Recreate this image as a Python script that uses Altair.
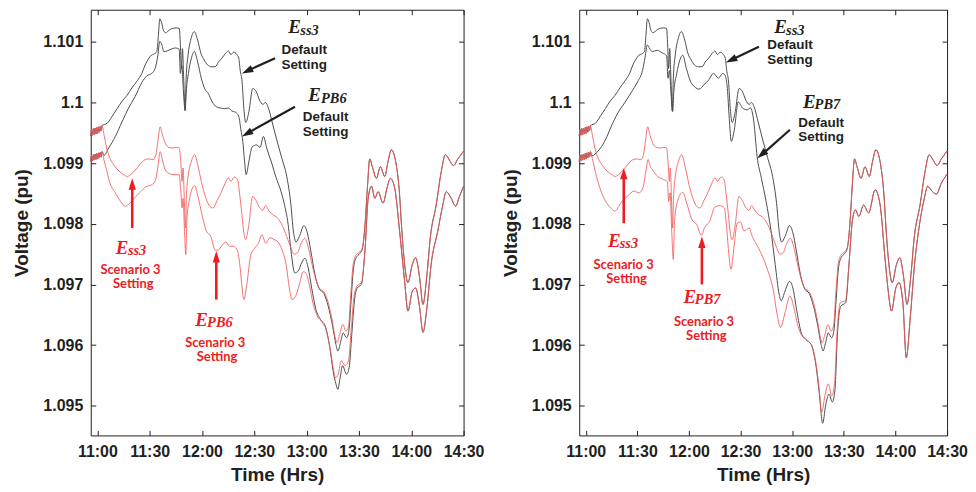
import altair as alt
import pandas as pd

# ---------------- axes ----------------
x_ticks = [0, 30, 60, 90, 120, 150, 180, 210]          # minutes after 11:00
y_ticks = [1.095, 1.096, 1.097, 1.098, 1.099, 1.1, 1.101]
x_domain = [-3.8, 210]
y_domain = [1.09451, 1.10153]

# ---------------- start-up oscillation ----------------
zig_t = [-3.8, -3.3, -2.8, -2.3, -1.8, -1.3, -0.8, -0.3, 0.2, 0.7, 1.2, 1.7, 2.2, 2.7]
ess3_zig_v = [1.09945, 1.09956, 1.09946, 1.09957, 1.09947, 1.09958, 1.09948, 1.09959,
              1.09949, 1.09960, 1.09951, 1.09961, 1.09953, 1.09962]
pb_zig_v = [1.09903, 1.09913, 1.09904, 1.09914, 1.09905, 1.09915, 1.09906, 1.09916,
            1.09907, 1.09917, 1.09909, 1.09918, 1.09910, 1.09919]

# ---------------- E_ss3 (same in both panels) ----------------
ess3_def_t = [5.7, 8.4, 11.4, 14.1, 17.1, 19.8, 22.9, 25.5, 27.4, 29.3, 30.9, 32.4, 34.1, 35.0, 35.8,
              36.8, 37.9, 39.2, 41.0, 42.9, 45.3, 47.0, 47.6, 48.2, 48.8, 49.5, 50.3, 50.9, 52.0, 53.7,
              55.6, 57.5, 59.4, 61.3, 63.2, 65.5, 67.6, 69.5, 71.4, 73.5, 75.1, 76.6, 78.1, 80.0, 81.1,
              81.9, 83.0, 84.0, 85.1, 86.9, 89.1, 91.1, 93.0, 94.9, 96.4, 98.3, 100.2, 102.9, 105.7,
              108.6, 110.9, 112.4, 113.9, 115.8, 118.5, 120.4, 122.3, 124.8, 127.2, 129.9, 132.4,
              134.9, 136.8, 137.9, 139.4, 141.0, 142.9, 144.2, 145.5, 146.7, 148.2, 150.5, 152.0]
ess3_def_v = [1.09966, 1.09977, 1.09990, 1.10002, 1.10012, 1.10024, 1.10036, 1.10048, 1.10062, 1.10072,
              1.10078, 1.10080, 1.10084, 1.10111, 1.10138, 1.10132, 1.10119, 1.10115, 1.10119, 1.10122,
              1.10123, 1.10122, 1.10095, 1.10056, 1.10089, 1.10040, 1.09986, 1.10040, 1.10078, 1.10105,
              1.10117, 1.10103, 1.10081, 1.10070, 1.10062, 1.10059, 1.10059, 1.10067, 1.10073, 1.10081,
              1.10085, 1.10079, 1.10083, 1.10079, 1.10073, 1.10053, 1.10034, 1.09990, 1.09967, 1.09985,
              1.10023, 1.10018, 1.10004, 1.09997, 1.10000, 1.09989, 1.09968, 1.09938, 1.09909, 1.09878,
              1.09834, 1.09788, 1.09770, 1.09779, 1.09797, 1.09785, 1.09757, 1.09716, 1.09693, 1.09685,
              1.09664, 1.09631, 1.09601, 1.09590, 1.09604, 1.09620, 1.09612, 1.09623, 1.09673, 1.09722,
              1.09743, 1.09751, 1.09759]
ess3_sc3_t = [3.8, 5.3, 6.9, 9.5, 12.4, 15.2, 17.1, 19.4, 21.9, 24.4, 27.0, 29.5, 32.0, 33.5, 34.7,
              36.0, 37.1, 38.5, 40.4, 42.9, 45.3, 47.0, 47.8, 48.6, 49.1, 49.9, 50.5, 51.1, 52.2, 53.9,
              55.8, 57.7, 59.6, 61.9, 64.2, 66.3, 68.6, 70.9, 73.3, 75.1, 76.6, 78.5, 80.4, 81.5, 82.9,
              84.0, 85.0, 86.9, 89.0, 91.1, 93.0, 94.9, 96.4, 98.3, 100.6, 103.2, 105.9, 108.6, 110.9,
              112.8, 114.7, 116.6, 118.9, 120.8, 122.7, 125.0, 127.2, 129.9, 132.4, 134.9, 136.4, 137.5,
              139.0, 140.8, 142.5, 144.0, 145.3, 146.7, 148.2, 150.5, 152.0]
ess3_sc3_v = [1.09947, 1.09925, 1.09910, 1.09897, 1.09887, 1.09881, 1.09878, 1.09882, 1.09889, 1.09898,
              1.09905, 1.09907, 1.09906, 1.09913, 1.09936, 1.09960, 1.09949, 1.09936, 1.09927, 1.09925,
              1.09926, 1.09925, 1.09903, 1.09870, 1.09892, 1.09837, 1.09793, 1.09848, 1.09881, 1.09903,
              1.09914, 1.09895, 1.09870, 1.09845, 1.09830, 1.09826, 1.09838, 1.09851, 1.09867, 1.09876,
              1.09870, 1.09877, 1.09873, 1.09851, 1.09815, 1.09785, 1.09774, 1.09799, 1.09845, 1.09838,
              1.09827, 1.09822, 1.09830, 1.09822, 1.09815, 1.09810, 1.09798, 1.09779, 1.09761, 1.09750,
              1.09752, 1.09766, 1.09776, 1.09763, 1.09738, 1.09711, 1.09694, 1.09688, 1.09670, 1.09637,
              1.09612, 1.09604, 1.09618, 1.09634, 1.09623, 1.09631, 1.09684, 1.09733, 1.09748, 1.09754,
              1.09761]
ess3_tail_t = [153.5, 154.9, 156.2, 157.7, 160.0, 162.3, 164.8, 166.7, 168.6, 171.4, 173.3, 174.5, 176.2,
               178.1, 180.6, 182.5, 184.8, 186.7, 189.0, 190.9, 194.3, 197.2, 199.6, 201.9, 204.2, 206.7,
               210.0]
ess3_tail_v = [1.09799, 1.09862, 1.09907, 1.09894, 1.09875, 1.09894, 1.09878, 1.09903, 1.09922, 1.09897,
               1.09848, 1.09793, 1.09733, 1.09703, 1.09733, 1.09744, 1.09711, 1.09667, 1.09716, 1.09777,
               1.09831, 1.09886, 1.09914, 1.09905, 1.09896, 1.09907, 1.09920]

# ---------------- E_PB6 (left panel) ----------------
pb6_def_t = [3.8, 6.5, 10.3, 14.1, 17.9, 21.7, 25.5, 28.4, 31.2, 33.1, 34.7, 35.8, 37.0, 38.1, 40.0,
             42.3, 44.8, 46.9, 47.6, 48.4, 49.3, 50.3, 51.1, 52.2, 53.9, 55.6, 57.5, 59.6, 61.7, 63.6,
             65.9, 68.2, 70.5, 72.8, 75.1, 77.1, 79.2, 81.1, 82.3, 83.4, 84.4, 85.3, 86.9, 88.8, 91.4,
             93.3, 95.2, 97.1, 100.0, 102.5, 104.8, 107.1, 109.4, 111.3, 113.2, 115.1, 117.2, 119.0,
             120.9, 122.9, 125.3, 128.0, 130.7, 133.3, 135.2, 136.8, 137.9, 139.2, 140.6, 142.9, 144.4,
             145.9, 147.4, 149.0, 151.4]
pb6_def_v = [1.09913, 1.09925, 1.09944, 1.09968, 1.09991, 1.10010, 1.10033, 1.10044, 1.10048, 1.10056,
             1.10078, 1.10101, 1.10095, 1.10084, 1.10085, 1.10088, 1.10090, 1.10088, 1.10048, 1.10062,
             1.10021, 1.09988, 1.10023, 1.10048, 1.10073, 1.10084, 1.10067, 1.10040, 1.10022, 1.10015,
             1.10001, 1.09993, 1.09991, 1.09990, 1.09991, 1.09986, 1.09984, 1.09977, 1.09955, 1.09936,
             1.09903, 1.09881, 1.09903, 1.09927, 1.09930, 1.09926, 1.09944, 1.09925, 1.09900, 1.09876,
             1.09858, 1.09834, 1.09799, 1.09749, 1.09719, 1.09722, 1.09736, 1.09743, 1.09727, 1.09694,
             1.09659, 1.09642, 1.09631, 1.09596, 1.09557, 1.09536, 1.09527, 1.09546, 1.09566, 1.09552,
             1.09563, 1.09618, 1.09673, 1.09694, 1.09700]
pb6_sc3_t = [3.8, 5.3, 6.9, 10.3, 13.3, 16.0, 18.7, 21.7, 24.8, 27.8, 30.9, 33.1, 34.7, 36.0, 37.3,
             38.9, 41.1, 43.8, 46.9, 47.8, 48.6, 49.1, 49.9, 50.7, 51.4, 52.6, 54.1, 55.8, 57.7, 60.0,
             62.5, 65.1, 67.6, 69.5, 71.4, 73.7, 75.8, 78.1, 80.4, 81.9, 83.0, 84.0, 85.7, 88.0, 90.3,
             92.4, 94.3, 96.6, 99.0, 101.3, 103.6, 105.9, 108.2, 110.1, 111.6, 113.6, 115.8, 118.1,
             119.6, 121.5, 123.8, 126.1, 128.8, 131.4, 133.7, 135.2, 136.6, 138.1, 139.8, 142.1, 144.0,
             145.5, 147.0, 148.8, 151.4]
pb6_sc3_v = [1.09905, 1.09889, 1.09870, 1.09851, 1.09837, 1.09829, 1.09834, 1.09844, 1.09853, 1.09861,
             1.09864, 1.09870, 1.09894, 1.09919, 1.09905, 1.09889, 1.09883, 1.09881, 1.09881, 1.09856,
             1.09826, 1.09842, 1.09793, 1.09749, 1.09810, 1.09837, 1.09856, 1.09863, 1.09845, 1.09815,
             1.09788, 1.09779, 1.09756, 1.09757, 1.09764, 1.09770, 1.09763, 1.09763, 1.09755, 1.09727,
             1.09694, 1.09675, 1.09700, 1.09749, 1.09760, 1.09768, 1.09782, 1.09768, 1.09777, 1.09774,
             1.09770, 1.09757, 1.09733, 1.09694, 1.09675, 1.09680, 1.09700, 1.09721, 1.09719, 1.09700,
             1.09667, 1.09648, 1.09638, 1.09623, 1.09590, 1.09563, 1.09546, 1.09552, 1.09574, 1.09566,
             1.09574, 1.09623, 1.09676, 1.09697, 1.09703]
pb6_tail_t = [153.5, 155.3, 157.2, 159.1, 161.0, 163.8, 166.1, 168.0, 170.5, 173.3, 176.2, 178.1, 180.6,
              182.5, 184.8, 186.7, 189.0, 191.4, 195.2, 198.1, 200.0, 202.9, 205.4, 207.6, 210.0]
pb6_tail_v = [1.09758, 1.09842, 1.09862, 1.09842, 1.09853, 1.09834, 1.09859, 1.09875, 1.09859, 1.09788,
              1.09705, 1.09656, 1.09689, 1.09694, 1.09662, 1.09621, 1.09662, 1.09733, 1.09788, 1.09831,
              1.09853, 1.09842, 1.09829, 1.09845, 1.09862]

# ---------------- E_PB7 (right panel) ----------------
pb7_def_t = [3.4, 7.2, 11.0, 14.9, 18.7, 22.5, 26.3, 30.1, 33.0, 34.5, 35.8, 37.1, 38.7, 41.5, 44.4,
             47.0, 47.8, 48.6, 49.5, 50.5, 51.2, 52.9, 54.7, 56.4, 58.5, 61.0, 63.2, 65.9, 68.6, 71.4,
             74.3, 77.1, 79.6, 81.1, 82.3, 83.4, 84.6, 86.5, 88.6, 91.1, 93.7, 95.8, 97.7, 99.6, 102.1,
             104.8, 107.7, 110.1, 112.4, 113.6, 115.8, 118.5, 120.4, 122.7, 125.3, 128.0, 131.0, 133.7,
             135.8, 137.7, 139.4, 141.4, 143.3, 144.8, 146.3, 148.2, 151.1]
pb7_def_v = [1.09912, 1.09920, 1.09936, 1.09961, 1.09983, 1.09999, 1.10016, 1.10034, 1.10053, 1.10075,
             1.10095, 1.10089, 1.10084, 1.10086, 1.10082, 1.10077, 1.10040, 1.10053, 1.10018, 1.09985,
             1.10018, 1.10048, 1.10070, 1.10078, 1.10056, 1.10034, 1.10026, 1.10022, 1.10029, 1.10037,
             1.10048, 1.10040, 1.10048, 1.10044, 1.10023, 1.09974, 1.09936, 1.09958, 1.10001, 1.09991,
             1.09988, 1.09991, 1.09968, 1.09911, 1.09875, 1.09837, 1.09788, 1.09733, 1.09684, 1.09673,
             1.09689, 1.09705, 1.09694, 1.09656, 1.09620, 1.09609, 1.09601, 1.09568, 1.09519, 1.09471,
             1.09500, 1.09519, 1.09506, 1.09525, 1.09618, 1.09664, 1.09670]
pb7_sc3_t = [3.8, 5.3, 7.2, 11.0, 14.9, 16.8, 20.6, 24.4, 28.2, 31.0, 33.5, 34.9, 36.2, 37.5, 39.0,
             41.9, 45.3, 47.4, 48.2, 49.0, 49.9, 50.9, 51.6, 53.3, 56.4, 58.7, 61.5, 64.4, 67.2, 69.1,
             72.0, 74.9, 77.7, 80.6, 81.9, 83.2, 84.4, 86.1, 88.0, 89.9, 92.0, 94.9, 96.8, 100.6, 105.3,
             109.1, 111.2, 113.2, 115.8, 118.7, 120.8, 123.1, 125.7, 128.6, 131.4, 133.9, 135.6, 137.1,
             139.0, 141.0, 142.9, 144.6, 146.1, 148.0, 150.9]
pb7_sc3_v = [1.09908, 1.09889, 1.09868, 1.09840, 1.09825, 1.09821, 1.09835, 1.09846, 1.09854, 1.09851,
             1.09862, 1.09886, 1.09906, 1.09895, 1.09888, 1.09878, 1.09873, 1.09870, 1.09837, 1.09851,
             1.09793, 1.09741, 1.09804, 1.09837, 1.09852, 1.09834, 1.09808, 1.09799, 1.09781, 1.09794,
             1.09804, 1.09827, 1.09830, 1.09826, 1.09793, 1.09749, 1.09725, 1.09760, 1.09801, 1.09803,
             1.09788, 1.09793, 1.09779, 1.09759, 1.09727, 1.09689, 1.09651, 1.09629, 1.09653, 1.09681,
             1.09664, 1.09634, 1.09615, 1.09608, 1.09599, 1.09568, 1.09530, 1.09489, 1.09516, 1.09536,
             1.09516, 1.09536, 1.09623, 1.09670, 1.09673]
pb7_tail_t = [153.0, 154.9, 156.8, 158.7, 161.5, 164.4, 168.2, 171.1, 173.9, 175.8, 177.7, 180.2, 182.1,
              184.4, 186.3, 188.6, 191.1, 194.0, 196.8, 198.7, 201.5, 203.8, 206.7, 210.0]
pb7_tail_v = [1.09733, 1.09804, 1.09823, 1.09812, 1.09831, 1.09818, 1.09856, 1.09831, 1.09744, 1.09689,
              1.09656, 1.09694, 1.09703, 1.09667, 1.09579, 1.09645, 1.09733, 1.09799, 1.09842, 1.09862,
              1.09853, 1.09849, 1.09867, 1.09882]

# ---------------- annotations ----------------
E_left_t = [109.5, 120.9, 10.5, 56.2]
E_left_v = [1.10114, 1.10003, 1.09750, 1.09631]
sub_left_text = ["ss3", "PB6", "ss3", "PB6"]
sub_left_t = [116.4, 128.2, 17.5, 62.9]
sub_left_v = [1.10111, 1.10000, 1.09748, 1.09629]
lab_text = ["Default", "Setting", "Default", "Setting", "Scenario 3", "Setting", "Scenario 3", "Setting"]
lab_left_t = [118.6, 118.6, 130.9, 130.9, 19.0, 20.6, 67.6, 68.6]
lab_left_v = [1.10080, 1.10056, 1.09969, 1.09945, 1.09718, 1.09694, 1.09597, 1.09573]
arr_left_t0 = [101.9, 113.3, 20.0, 68.2]
arr_left_v0 = [1.10073, 1.09993, 1.09793, 1.09675]
arr_left_t1 = [86.6, 86.4, 20.0, 68.2]
arr_left_v1 = [1.10053, 1.09950, 1.09864, 1.09744]
tip_left_t = [82.9, 82.9, 20.0, 68.2]
tip_left_v = [1.10048, 1.09944, 1.09875, 1.09755]
tip_left_ang = [245.7, 240.6, 0, 0]

E_right_t = [109.6, 126.3, 13.0, 56.8]
E_right_v = [1.10115, 1.09991, 1.09761, 1.09670]
sub_right_text = ["ss3", "PB7", "ss3", "PB7"]
sub_right_t = [116.4, 133.0, 19.7, 63.4]
sub_right_v = [1.10112, 1.09989, 1.09760, 1.09668]
lab_right_t = [118.7, 118.7, 136.8, 136.8, 22.0, 23.7, 68.7, 70.1]
lab_right_v = [1.10088, 1.10064, 1.09960, 1.09936, 1.09726, 1.09702, 1.09632, 1.09608]
arr_right_t0 = [100.6, 118.7, 22.1, 67.5]
arr_right_v0 = [1.10092, 1.09955, 1.09801, 1.09700]
arr_right_t1 = [85.1, 102.7, 22.1, 67.5]
arr_right_v1 = [1.10071, 1.09915, 1.09880, 1.09768]
tip_right_t = [81.5, 99.7, 22.1, 67.5]
tip_right_v = [1.10066, 1.09908, 1.09892, 1.09779]
tip_right_ang = [244.7, 229.5, 0, 0]

ann_kind = ["k", "k", "r", "r"]
lab_kind = ["k", "k", "k", "k", "r", "r", "r", "r"]

# ---------------- style ----------------
LINE_K = "#4d4d4d"
LINE_R = "#f25a5a"
TXT_K = "#231f20"
TXT_R = "#ed1c24"
SANS = "Liberation Sans"
SERIF = "Liberation Serif"
H = 427
ARROW_PATH = "M0,0L0.65,2L-0.65,2Z"


def series(name, parts):
    ts, vs = [], []
    for t, v in parts:
        assert len(t) == len(v), name
        ts += list(t)
        vs += list(v)
    return pd.DataFrame({"series": name, "t": ts, "v": vs})


def col(kinds):
    return [TXT_K if k == "k" else TXT_R for k in kinds]


def panel(pb_def, pb_sc3, pb_tail, E_t, E_v, sub_text, sub_t, sub_v, lab_t, lab_v,
          a_t0, a_v0, a_t1, a_v1, tip_t, tip_v, tip_ang, W):
    xs = alt.Scale(domain=x_domain, nice=False, zero=False)
    ys = alt.Scale(domain=y_domain, nice=False, zero=False)

    black = pd.concat([
        series("ess3_def", [(zig_t, ess3_zig_v), (ess3_def_t, ess3_def_v), (ess3_tail_t, ess3_tail_v)]),
        series("pb_def", [(zig_t, pb_zig_v), pb_def, pb_tail]),
    ])
    red = pd.concat([
        series("ess3_sc3", [(zig_t, ess3_zig_v), (ess3_sc3_t, ess3_sc3_v), (ess3_tail_t, ess3_tail_v)]),
        series("pb_sc3", [(zig_t, pb_zig_v), pb_sc3, pb_tail]),
    ])

    tick_only = dict(labels=False, domain=False, grid=False, ticks=True, tickSize=5,
                     tickColor=TXT_K, tickWidth=1, title=None)
    x_main = alt.Axis(values=x_ticks, grid=False, ticks=False, domain=False,
                      labelExpr="(11 + floor(datum.value / 60)) + ':' + (datum.value % 60 == 0 ? '00' : '30')",
                      labelFont=SANS, labelFontWeight="bold", labelFontSize=16, labelColor=TXT_K,
                      labelPadding=8, labelFlush=False, labelOverlap=False,
                      title="Time (Hrs)", titleFont=SANS, titleFontWeight="bold", titleFontSize=19,
                      titleColor=TXT_K, titlePadding=6)
    y_main = alt.Axis(values=y_ticks, grid=False, ticks=False, domain=False, format=".3~f",
                      labelFont=SANS, labelFontWeight="bold", labelFontSize=16, labelColor=TXT_K,
                      labelPadding=8, labelFlush=False, labelOverlap=False,
                      title="Voltage (pu)", titleFont=SANS, titleFontWeight="bold", titleFontSize=19,
                      titleColor=TXT_K, titlePadding=11)

    l_black = alt.Chart(black).mark_line(color=LINE_K, strokeWidth=1, interpolate="monotone").encode(
        x=alt.X("t:Q", scale=xs, axis=x_main),
        y=alt.Y("v:Q", scale=ys, axis=y_main),
        detail="series:N",
    )
    l_red = alt.Chart(red).mark_line(color=LINE_R, strokeWidth=1, opacity=0.85,
                                     interpolate="monotone").encode(
        x=alt.X("t:Q", scale=xs, axis=alt.Axis(orient="top", offset=-H, values=x_ticks, **tick_only)),
        y=alt.Y("v:Q", scale=ys, axis=alt.Axis(orient="right", offset=-W, values=y_ticks, **tick_only)),
        detail="series:N",
    )

    e_df = pd.DataFrame({"t": E_t, "v": E_v, "text": ["E"] * 4, "c": col(ann_kind)})
    l_E = alt.Chart(e_df).mark_text(font=SERIF, fontStyle="italic", fontWeight="bold", fontSize=19,
                                    align="left", baseline="alphabetic").encode(
        x=alt.X("t:Q", scale=xs, axis=alt.Axis(orient="bottom", offset=-H, values=x_ticks, **tick_only)),
        y=alt.Y("v:Q", scale=ys, axis=alt.Axis(orient="left", offset=-W, values=y_ticks, **tick_only)),
        text="text:N", color=alt.Color("c:N", scale=None),
    )
    s_df = pd.DataFrame({"t": sub_t, "v": sub_v, "text": sub_text, "c": col(ann_kind)})
    l_sub = alt.Chart(s_df).mark_text(font=SERIF, fontStyle="italic", fontWeight="bold", fontSize=14.5,
                                      align="left", baseline="alphabetic").encode(
        x=alt.X("t:Q", scale=xs, axis=None), y=alt.Y("v:Q", scale=ys, axis=None),
        text="text:N", color=alt.Color("c:N", scale=None),
    )
    lab_df = pd.DataFrame({"t": lab_t, "v": lab_v, "text": lab_text, "k": lab_kind})
    l_labk = alt.Chart(lab_df[lab_df.k == "k"]).mark_text(
        font=SANS, fontWeight="bold", fontSize=13.5, align="center", baseline="alphabetic", color=TXT_K
    ).encode(x=alt.X("t:Q", scale=xs, axis=None), y=alt.Y("v:Q", scale=ys, axis=None), text="text:N")
    l_labr = alt.Chart(lab_df[lab_df.k == "r"]).mark_text(
        font="Lato", fontWeight="bold", fontSize=13, align="center", baseline="alphabetic", color=TXT_R
    ).encode(x=alt.X("t:Q", scale=xs, axis=None), y=alt.Y("v:Q", scale=ys, axis=None), text="text:N")

    arr_df = pd.DataFrame({"t0": a_t0, "v0": a_v0, "t1": a_t1, "v1": a_v1,
                           "tt": tip_t, "tv": tip_v, "ang": tip_ang, "c": col(ann_kind),
                           "w": [2.2, 2.2, 2.6, 2.6]})
    l_rule = alt.Chart(arr_df).mark_rule().encode(
        x=alt.X("t0:Q", scale=xs, axis=None), y=alt.Y("v0:Q", scale=ys, axis=None),
        x2="t1:Q", y2="v1:Q", color=alt.Color("c:N", scale=None),
        strokeWidth=alt.StrokeWidth("w:Q", scale=None),
    )
    l_head = alt.Chart(arr_df).mark_point(shape=ARROW_PATH, filled=True, size=130, opacity=1).encode(
        x=alt.X("tt:Q", scale=xs, axis=None), y=alt.Y("tv:Q", scale=ys, axis=None),
        angle=alt.Angle("ang:Q", scale=None), color=alt.Color("c:N", scale=None),
    )

    return alt.layer(l_black, l_red, l_E, l_sub, l_labk, l_labr, l_rule, l_head).resolve_axis(
        x="independent", y="independent"
    ).properties(width=W, height=H)


left = panel((pb6_def_t, pb6_def_v), (pb6_sc3_t, pb6_sc3_v), (pb6_tail_t, pb6_tail_v),
             E_left_t, E_left_v, sub_left_text, sub_left_t, sub_left_v, lab_left_t, lab_left_v,
             arr_left_t0, arr_left_v0, arr_left_t1, arr_left_v1, tip_left_t, tip_left_v, tip_left_ang, 374)
right = panel((pb7_def_t, pb7_def_v), (pb7_sc3_t, pb7_sc3_v), (pb7_tail_t, pb7_tail_v),
              E_right_t, E_right_v, sub_right_text, sub_right_t, sub_right_v, lab_right_t, lab_right_v,
              arr_right_t0, arr_right_v0, arr_right_t1, arr_right_v1, tip_right_t, tip_right_v,
              tip_right_ang, 369)

chart = alt.hconcat(left, right, spacing=16).configure_view(
    stroke=TXT_K, strokeWidth=1
).properties(
    padding={"left": 4, "top": 0, "right": 0, "bottom": 0}, background="white"
)

chart.save("out.html", embed_options={"renderer": "svg", "actions": False})
